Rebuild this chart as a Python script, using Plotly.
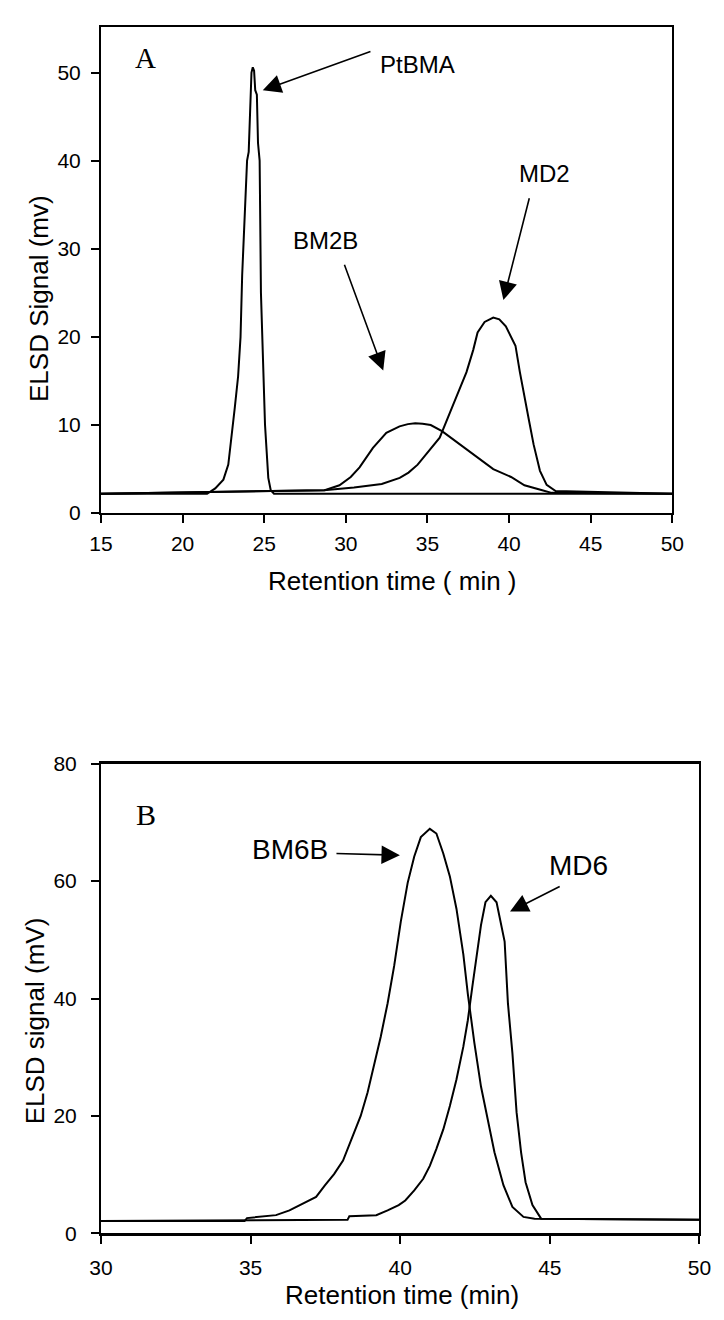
import plotly.graph_objects as go

# ---------------- Panel A data ----------------
ptbma_t = [15, 21.5, 22.0, 22.5, 22.8, 23.0, 23.2, 23.4, 23.55, 23.65, 23.75, 23.85, 23.95, 24.05,
           24.15, 24.22, 24.3, 24.38, 24.45, 24.55, 24.62, 24.72, 24.8, 24.88, 24.97, 25.05, 25.15,
           25.25, 25.4, 25.6, 50]
ptbma_s = [2.2, 2.2, 2.8, 3.8, 5.5, 8.5, 12, 15.5, 20, 27, 32, 35, 40, 41,
           48, 50, 50.6, 50.2, 48, 47.5, 42, 40, 25, 20, 15, 10, 7,
           4, 2.6, 2.2, 2.2]

bm2b_t = [15, 28.7, 29.61, 30.3, 30.84, 31.66, 32.48, 33.29, 33.8, 34.25, 34.7, 35.2, 35.89, 36.84,
          37.94, 39.03, 40.12, 40.94, 42.03, 42.6, 50]
bm2b_s = [2.2, 2.6, 3.16, 4.1, 5.2, 7.4, 9.1, 9.85, 10.1, 10.2, 10.15, 10.0, 9.3, 8.0,
          6.5, 5.0, 4.1, 3.16, 2.6, 2.3, 2.2]

md2_t = [15, 28.66, 30.5, 32.2, 33.3, 33.84, 34.4, 34.93, 35.75, 36.57, 37.39, 37.8, 38.07, 38.5,
         39.03, 39.4, 39.8, 40.39, 40.66, 41.21, 41.5, 41.89, 42.3, 42.85, 50]
md2_s = [2.2, 2.6, 2.9, 3.3, 4.0, 4.6, 5.5, 6.7, 8.56, 12.28, 16, 18.5, 20.5, 21.7,
         22.2, 22.0, 21.2, 19.0, 16.0, 10.6, 7.8, 4.8, 3.2, 2.5, 2.2]

# ---------------- Panel B data ----------------
bm6b_t = [30, 34.8, 34.88, 35.85, 36.30, 36.75, 37.19, 37.49, 37.79, 38.09, 38.38, 38.68, 38.91,
          39.13, 39.35, 39.58, 39.80, 40.02, 40.25, 40.47, 40.69, 40.99, 41.21, 41.44, 41.66,
          41.88, 42.11, 42.26, 42.48, 42.70, 42.93, 43.15, 43.45, 43.75, 44.12, 44.49, 50]
bm6b_s = [2.1, 2.1, 2.6, 3.1, 3.9, 5.1, 6.2, 8.2, 10.1, 12.4, 16, 20, 24,
          28.5, 33.5, 39.2, 45.6, 53.1, 59.7, 64.2, 67.5, 68.9, 68.1, 64.7, 60.8,
          55.3, 47.5, 40.8, 32.4, 25, 19.4, 13.8, 8.2, 4.5, 2.8, 2.5, 2.3]

md6_t = [30, 35.85, 38.24, 38.3, 39.20, 39.58, 39.95, 40.17, 40.47, 40.77, 40.99, 41.21, 41.44,
         41.66, 41.88, 42.11, 42.26, 42.41, 42.55, 42.70, 42.85, 43.03, 43.22, 43.37, 43.49,
         43.60, 43.75, 43.89, 44.04, 44.19, 44.42, 44.71, 50]
md6_s = [2.1, 2.3, 2.3, 2.9, 3.1, 3.9, 4.8, 5.6, 7.3, 9.3, 11.5, 14.4, 17.7,
         21.7, 26.2, 31.8, 36.3, 42, 47, 52.5, 56.4, 57.5, 56.4, 52.5, 49.7,
         39.2, 30.7, 20.6, 13.8, 8.7, 4.8, 2.5, 2.3]

fig = go.Figure()
line = dict(color="black", width=2)
for t, s in [(ptbma_t, ptbma_s), (bm2b_t, bm2b_s), (md2_t, md2_s)]:
    fig.add_trace(go.Scatter(x=t, y=s, mode="lines", line=line, xaxis="x", yaxis="y",
                             showlegend=False, hoverinfo="skip"))
for t, s in [(bm6b_t, bm6b_s), (md6_t, md6_s)]:
    fig.add_trace(go.Scatter(x=t, y=s, mode="lines", line=line, xaxis="x2", yaxis="y2",
                             showlegend=False, hoverinfo="skip"))

W, H = 724, 1320
tickfont = dict(family="Liberation Sans, Arial, sans-serif", size=21, color="black")
common = dict(showgrid=False, zeroline=False, showline=True, linecolor="black", linewidth=2,
              mirror=True, ticks="outside", ticklen=8, tickwidth=2, tickcolor="black",
              tickfont=tickfont)

fig.update_layout(
    width=W, height=H, margin=dict(l=0, r=0, t=0, b=0),
    paper_bgcolor="white", plot_bgcolor="white",
    xaxis=dict(domain=[92 / W, 683 / W], range=[15, 50], dtick=5, anchor="y",
               ticklabelstandoff=3, **common),
    yaxis=dict(domain=[(H - 510) / H, (H - 15) / H], range=[0, 55.2], dtick=10, anchor="x",
               ticklabelstandoff=6, **common),
    xaxis2=dict(domain=[92 / W, 711 / W], range=[30, 50], dtick=5, anchor="y2",
                ticklabelstandoff=6, **common),
    yaxis2=dict(domain=[(H - 1243) / H, (H - 765) / H], range=[0, 80], dtick=20, anchor="x2",
                ticklabelstandoff=10, **common),
)
fig.update_xaxes(linewidth=2.5, selector=dict(anchor="y2"))

txt = dict(family="Liberation Sans, Arial, sans-serif", color="black")
serif = dict(family="Liberation Serif, Times New Roman, serif", color="black")
ann = []
# panel letters
ann.append(dict(x=17.72, y=51.6, xref="x", yref="y", text="A", showarrow=False,
                xanchor="center", yanchor="middle", font=dict(size=29, **serif)))
ann.append(dict(x=31.49, y=71.4, xref="x2", yref="y2", text="B", showarrow=False,
                xanchor="center", yanchor="middle", font=dict(size=30, **serif)))
# labels panel A
for xx, yy, t in [(34.39, 50.86, "PtBMA"), (28.74, 30.99, "BM2B"), (42.16, 38.5, "MD2")]:
    ann.append(dict(x=xx, y=yy, xref="x", yref="y", text=t, showarrow=False,
                    xanchor="center", yanchor="middle", font=dict(size=24, **txt)))
# arrows panel A: (tail x, tail y, head x, head y)
for tx, ty, hx, hy in [(31.6, 52.46, 24.91, 47.99), (29.88, 28.35, 32.29, 16.18),
                       (41.26, 35.9, 39.65, 24.18)]:
    ann.append(dict(x=hx, y=hy, ax=tx, ay=ty, xref="x", yref="y", axref="x", ayref="y",
                    text="", showarrow=True, arrowhead=2, arrowsize=2.3, arrowwidth=1.6,
                    arrowcolor="black"))
# labels panel B
for xx, yy, t in [(36.33, 65.4, "BM6B"), (45.95, 62.6, "MD6")]:
    ann.append(dict(x=xx, y=yy, xref="x2", yref="y2", text=t, showarrow=False,
                    xanchor="center", yanchor="middle", font=dict(size=28, **txt)))
for tx, ty, hx, hy in [(37.82, 64.7, 39.99, 64.4), (45.38, 59.2, 43.67, 54.8)]:
    ann.append(dict(x=hx, y=hy, ax=tx, ay=ty, xref="x2", yref="y2", axref="x2", ayref="y2",
                    text="", showarrow=True, arrowhead=2, arrowsize=2.3, arrowwidth=1.6,
                    arrowcolor="black"))
# axis titles
ann.append(dict(x=394 / W, y=(H - 579) / H, xref="paper", yref="paper",
                xanchor="center", yanchor="middle",
                text="Retention time ( min )", showarrow=False, font=dict(size=26, **txt)))
ann.append(dict(x=28 / W, y=(H - 292) / H, xref="paper", yref="paper", textangle=-90,
                xanchor="center", yanchor="middle",
                text="ELSD Signal (mv)", showarrow=False, font=dict(size=26, **txt)))
ann.append(dict(x=403 / W, y=(H - 1306) / H, xref="paper", yref="paper",
                xanchor="center", yanchor="middle",
                text="Retention time (min)", showarrow=False, font=dict(size=26, **txt)))
ann.append(dict(x=24 / W, y=(H - 1027) / H, xref="paper", yref="paper", textangle=-90,
                xanchor="center", yanchor="middle",
                text="ELSD signal (mV)", showarrow=False, font=dict(size=26, **txt)))
fig.update_layout(annotations=ann)

fig.write_html("out.html")
